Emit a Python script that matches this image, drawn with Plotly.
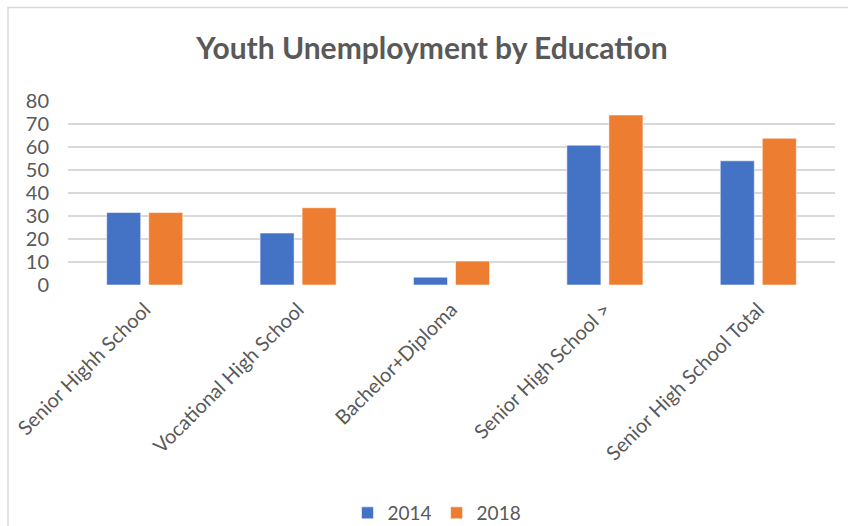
import plotly.graph_objects as go

# Data
categories = [
    "Senior Highh School",
    "Vocational High School",
    "Bachelor+Diploma",
    "Senior High School >",
    "Senior High School Total",
]
series_names = ["2014", "2018"]
values_2014 = [31.5, 22.6, 3.4, 60.8, 54.0]
values_2018 = [31.5, 33.6, 10.4, 73.9, 63.8]
y_ticks = [0, 10, 20, 30, 40, 50, 60, 70, 80]

# Canvas and plot-area geometry (pixels)
FIG_W, FIG_H = 848, 526
M_L, M_R, M_T, M_B = 68, 13, 101, 241
PW = FIG_W - M_L - M_R
PH = FIG_H - M_T - M_B


def px_to_paper_x(px):
    return (px - M_L) / PW


def px_to_paper_y(py):
    return 1 - (py - M_T) / PH


BLUE = "#4472C4"
ORANGE = "#ED7D31"
GREY_TEXT = "#595959"
GRID = "#D9D9D9"
FONT = "Lato"

fig = go.Figure()
for name, vals, color in [(series_names[0], values_2014, BLUE),
                          (series_names[1], values_2018, ORANGE)]:
    fig.add_trace(go.Bar(
        x=categories,
        y=vals,
        name=name,
        marker=dict(color=color, line=dict(color="rgba(255,255,255,0.55)", width=1)),
    ))

# Light chart-area frame (top and left edges visible)
frame_left = px_to_paper_x(8)
frame_top = px_to_paper_y(7.5)
frame_right = px_to_paper_x(FIG_W + 20)
frame_bottom = px_to_paper_y(FIG_H + 20)
fig.add_shape(
    type="rect", xref="paper", yref="paper",
    x0=frame_left, x1=frame_right, y0=frame_bottom, y1=frame_top,
    line=dict(color=GRID, width=1.5), fillcolor="rgba(0,0,0,0)", layer="below",
)

fig.update_layout(
    width=FIG_W,
    height=FIG_H,
    margin=dict(l=M_L, r=M_R, t=M_T, b=M_B, autoexpand=False),
    paper_bgcolor="white",
    plot_bgcolor="white",
    barmode="group",
    bargap=0.452,
    bargroupgap=0.19,
    title=dict(
        text="Youth Unemployment by Education",
        x=432 / FIG_W, xanchor="center",
        y=1 - 48 / FIG_H, yanchor="middle",
        font=dict(family=FONT, size=30, color=GREY_TEXT, weight="bold"),
    ),
    legend=dict(
        orientation="h",
        x=px_to_paper_x(437), xanchor="center",
        y=px_to_paper_y(513), yanchor="middle",
        font=dict(family=FONT, size=19, color=GREY_TEXT),
        itemwidth=30,
        bgcolor="rgba(0,0,0,0)",
    ),
    xaxis=dict(
        tickangle=-45,
        tickfont=dict(family=FONT, size=20, color=GREY_TEXT),
        showgrid=False,
        showline=False,
        ticks="",
        ticklabelstandoff=8,
    ),
    yaxis=dict(
        range=[0, 80],
        tickvals=y_ticks,
        tickfont=dict(family=FONT, size=20, color=GREY_TEXT),
        showgrid=True,
        gridcolor=GRID,
        gridwidth=1.5,
        zeroline=False,
        showline=False,
        ticks="",
        ticklabelstandoff=18,
    ),
    showlegend=True,
)

fig.write_html("out.html")
